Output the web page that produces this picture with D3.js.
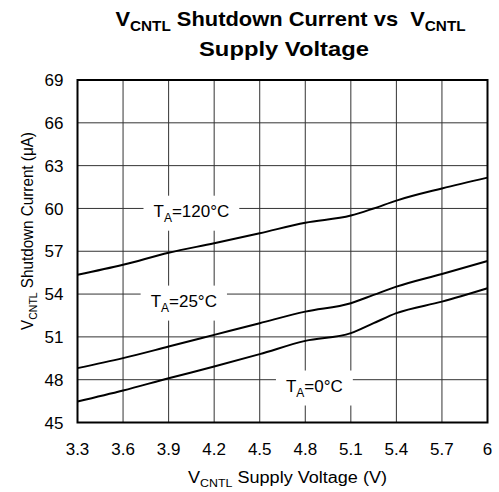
<!DOCTYPE html>
<html>
<head>
<meta charset="utf-8">
<script src="https://cdn.jsdelivr.net/npm/d3@7"></script>
<style>
  body { margin: 0; background: #fff; }
  text { font-family: "Liberation Sans", Arial, sans-serif; fill: #000; white-space: pre; }
</style>
</head>
<body>
<div id="chart"></div>
<script>
// supply voltage (V) sample points
var voltage = [3.3, 3.6, 3.9, 4.2, 4.5, 4.8, 5.1, 5.25, 5.4, 5.7, 6.0];
// shutdown current (uA) for each temperature
var current120 = [55.35, 56.05, 56.9, 57.56, 58.26, 59.0, 59.5, 60.0, 60.55, 61.4, 62.16];
var current25 = [48.81, 49.51, 50.32, 51.14, 51.96, 52.77, 53.36, 53.94, 54.52, 55.41, 56.32];
var current0 = [46.47, 47.24, 48.1, 48.92, 49.79, 50.72, 51.26, 51.96, 52.66, 53.47, 54.41];

// tick values
var xTicks = [3.3, 3.6, 3.9, 4.2, 4.5, 4.8, 5.1, 5.4, 5.7, 6];
var yTicks = [45, 48, 51, 54, 57, 60, 63, 66, 69];

// curve labels: temperature text, and voltage / current of the label centre
var labelTemps = ["120", "25", "0"];
var labelX = [4.05, 4.0, 4.86];
var labelY = [59.85, 53.55, 47.6];

var width = 499, height = 492;
var margin = {left: 77.5, right: 11.5, top: 80, bottom: 69.5};

var svg = d3.select("#chart").append("svg")
  .attr("width", width)
  .attr("height", height);

var x = d3.scaleLinear().domain([3.3, 6]).range([margin.left, width - margin.right]);
var y = d3.scaleLinear().domain([45, 69]).range([height - margin.bottom, margin.top]);

// stretch a centred text horizontally so it spans the wanted width
function fitWidth(sel, cx, cy, w) {
  var bw = sel.node().getBBox().width;
  sel.attr("x", 0).attr("y", 0)
    .attr("transform", "translate(" + cx + "," + cy + ") scale(" + (w / bw) + ",1)");
}

// grid lines
var grid = svg.append("g");
grid.selectAll(".vgrid")
  .data(xTicks.slice(1, -1))
  .enter().append("line")
  .attr("x1", d => x(d)).attr("x2", d => x(d))
  .attr("y1", y(45)).attr("y2", y(69))
  .attr("stroke", "#333").attr("stroke-width", 1);
grid.selectAll(".hgrid")
  .data(yTicks.slice(1, -1))
  .enter().append("line")
  .attr("x1", x(3.3)).attr("x2", x(6))
  .attr("y1", d => y(d)).attr("y2", d => y(d))
  .attr("stroke", "#333").attr("stroke-width", 1);

// tick labels
svg.selectAll(".ytick")
  .data(yTicks)
  .enter().append("text")
  .attr("x", margin.left - 14)
  .attr("y", d => y(d))
  .attr("dy", "0.36em")
  .attr("text-anchor", "end")
  .style("font-size", "17px")
  .text(d => d);

svg.selectAll(".xtick")
  .data(xTicks)
  .enter().append("text")
  .attr("x", d => x(d))
  .attr("y", y(45) + 32)
  .attr("text-anchor", "middle")
  .style("font-size", "17px")
  .text(d => d);

// curve labels with white boxes that break the grid
var labels = svg.append("g");
labelTemps.forEach(function(t, i) {
  var g = labels.append("g");
  var txt = g.append("text")
    .attr("x", x(labelX[i]))
    .attr("y", y(labelY[i]))
    .attr("dy", "0.36em")
    .attr("text-anchor", "middle")
    .style("font-size", "17px");
  txt.append("tspan").text("T");
  txt.append("tspan").attr("dy", 5).style("font-size", "12px").text("A");
  txt.append("tspan").attr("dy", -5).text("=" + t + "°C");
  var b = txt.node().getBBox();
  g.insert("rect", "text")
    .attr("x", b.x - 10).attr("y", b.y - 6)
    .attr("width", b.width + 20).attr("height", b.height + 12)
    .attr("fill", "#fff");
});

// curves
var line = d3.line()
  .x((d, i) => x(voltage[i]))
  .y(d => y(d))
  .curve(d3.curveMonotoneX);

svg.selectAll(".curve")
  .data([current120, current25, current0])
  .enter().append("path")
  .attr("d", line)
  .attr("fill", "none")
  .attr("stroke", "#000")
  .attr("stroke-width", 2);

// frame
svg.append("rect")
  .attr("x", x(3.3)).attr("y", y(69))
  .attr("width", x(6) - x(3.3)).attr("height", y(45) - y(69))
  .attr("fill", "none")
  .attr("stroke", "#000")
  .attr("stroke-width", 2);

// title
var title = svg.append("text")
  .attr("text-anchor", "middle")
  .style("font-size", "20px")
  .style("font-weight", "bold");
title.append("tspan").text("V");
title.append("tspan").attr("dy", 5).style("font-size", "14px").text("CNTL");
title.append("tspan").attr("dy", -5).text(" Shutdown Current vs  V");
title.append("tspan").attr("dy", 5).style("font-size", "14px").text("CNTL");
fitWidth(title, 290.5, 26, 351);

var title2 = svg.append("text")
  .attr("text-anchor", "middle")
  .style("font-size", "20px")
  .style("font-weight", "bold")
  .text("Supply Voltage");
fitWidth(title2, 284, 56, 170);

// axis titles
var xt = svg.append("text")
  .attr("text-anchor", "middle")
  .style("font-size", "16px");
xt.append("tspan").text("V");
xt.append("tspan").attr("dy", 4).style("font-size", "11px").text("CNTL");
xt.append("tspan").attr("dy", -4).text(" Supply Voltage (V)");
fitWidth(xt, 287.5, 483, 199);

var yt = svg.append("text")
  .attr("text-anchor", "middle")
  .style("font-size", "16px");
yt.append("tspan").text("V");
yt.append("tspan").attr("dy", 4).style("font-size", "11px").text("CNTL");
yt.append("tspan").attr("dy", -4).text(" Shutdown Current (μA)");
var ytw = yt.node().getBBox().width;
yt.attr("transform", "translate(33,231) rotate(-90) scale(" + (198 / ytw) + ",1)");
</script>
</body>
</html>
